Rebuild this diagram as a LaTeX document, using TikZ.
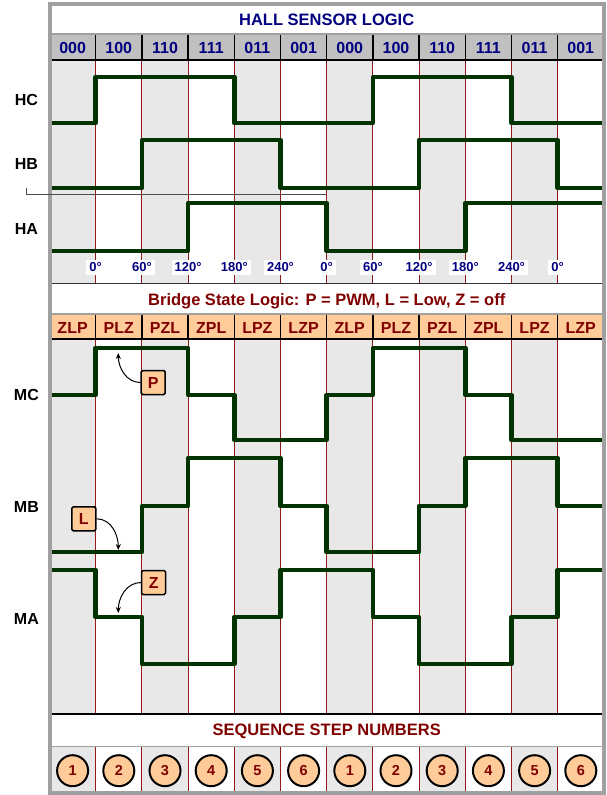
\documentclass[tikz,border=0pt]{standalone}
\usepackage{fontspec}
\setmainfont{Liberation Sans}
\usetikzlibrary{arrows.meta}
\definecolor{navy}{RGB}{0,0,128}
\definecolor{darkred}{RGB}{128,0,0}
\definecolor{wavegreen}{RGB}{0,51,0}
\definecolor{colshade}{RGB}{232,232,232}
\definecolor{headgray}{RGB}{192,192,192}
\definecolor{tagorange}{RGB}{255,204,153}
\definecolor{divred}{RGB}{150,25,25}
\definecolor{framegray}{RGB}{160,160,160}
\begin{document}
\begin{tikzpicture}[x=46.2pt, y=-1pt,
    wave/.style={wavegreen, line width=4.5pt, line join=round},
    divider/.style={divred, line width=1pt},
    celldiv/.style={black, line width=1.5pt},
    title/.style={font=\fontsize{16.5}{18}\selectfont\bfseries, anchor=base},
    lbl/.style={font=\fontsize{16}{18}\selectfont\bfseries, anchor=base},
    code/.style={font=\fontsize{16}{18}\selectfont\bfseries, anchor=base},
    deg/.style={fill=white, text=navy, font=\fontsize{13}{14}\selectfont\bfseries, anchor=base, inner xsep=3pt, inner ysep=3pt, text depth=0pt},
    tag/.style={draw=black, line width=1.5pt, rounded corners=1.5pt, fill=tagorange, text=darkred, minimum size=24pt, inner sep=0pt, font=\fontsize{16}{18}\selectfont\bfseries},
    stepnum/.style={circle, draw=black, line width=2pt, fill=tagorange, text=darkred, minimum size=31pt, inner sep=0pt, font=\fontsize{14.5}{16}\selectfont\bfseries},
    callout/.style={black, line width=1pt, -{Stealth[length=6pt, width=5pt]}}]
    \useasboundingbox (-1.0714,0) rectangle (12.0455,795);
    \fill[white] (0,4) rectangle (12,793);
    \foreach \i in {0,2,...,10} {
        \fill[colshade] (\i,60) rectangle ++(1,223);
        \fill[colshade] (\i,339) rectangle ++(1,375);
        \fill[colshade] (\i,746) rectangle ++(1,46);
    }
    \fill[headgray] (0,33) rectangle (12,60);
    \fill[tagorange] (0,314) rectangle (12,339);
    \foreach \k in {1,...,11} {
        \draw[divider] (\k,60) -- (\k,283);
        \draw[divider] (\k,339) -- (\k,714);
        \draw[divider] (\k,746) -- (\k,792);
        \draw[celldiv] (\k,33) -- (\k,60);
        \draw[celldiv] (\k,314) -- (\k,339);
    }
    \draw[framegray, line width=2pt] (0,34) -- (12,34);
    \draw[black, line width=1.5pt] (0,60) -- (12,60);
    \draw[black!80, line width=1.5pt] (0,283.5) -- (12,283.5);
    \draw[framegray, line width=1.5pt] (0,314) -- (12,314);
    \draw[black, line width=1.5pt] (0,339) -- (12,339);
    \draw[black, line width=1.5pt] (0,714) -- (12,714);
    \draw[framegray, line width=1.5pt] (0,746.5) -- (12,746.5);

    \node[title, navy] (halltitle) at (6,25) {HALL SENSOR LOGIC};
    \node[title, darkred] (bridgetitle) at (6,305) {Bridge State Logic: P = PWM, L = Low, Z = off};
    \node[title, darkred] (steptitle) at (6,735) {SEQUENCE STEP NUMBERS};
    \foreach \c [count=\i from 0] in {000,100,110,111,011,001,000,100,110,111,011,001}
        \node[code, navy] (hall\i) at (\i+0.5,53.3) {\c};
    \foreach \c [count=\i from 0] in {ZLP,PLZ,PZL,ZPL,LPZ,LZP,ZLP,PLZ,PZL,ZPL,LPZ,LZP}
        \node[code, darkred] (bridge\i) at (\i+0.5,333.3) {\c};
    \foreach \d [count=\k] in {0,60,120,180,240,0,60,120,180,240,0}
        \node[deg] (deg\k) at (\k,271.7) {\d°};
    \foreach \n [count=\i from 0] in {1,2,3,4,5,6,1,2,3,4,5,6}
        \node[stepnum] (step\i) at (\i+0.5,770.7) {\n};

    \node[lbl] (hc) at (-0.5,105) {HC};
    \node[lbl] (hb) at (-0.5,169.5) {HB};
    \node[lbl] (ha) at (-0.5,234) {HA};
    \node[lbl] (mc) at (-0.5,400) {MC};
    \node[lbl] (mb) at (-0.5,512) {MB};
    \node[lbl] (ma) at (-0.5,624.3) {MA};

    \draw[wave] (0,123) -| (1,77) -| (4,123) -| (7,77) -| (10,123) -- (12,123);
    \draw[wave] (0,188) -| (2,140) -| (5,188) -| (8,140) -| (11,188) -- (12,188);
    \draw[wave] (0,251) -| (3,203) -| (6,251) -| (9,203) -- (12,203);
    \draw[wave] (0,395) -| (1,348) -| (3,395) -| (4,440) -| (6,395) -| (7,348) -| (9,395) -| (10,440) -- (12,440);
    \draw[wave] (0,552) -| (2,506) -| (3,458) -| (5,506) -| (6,552) -| (8,506) -| (9,458) -| (11,506) -- (12,506);
    \draw[wave] (0,570) -| (1,617) -| (2,664) -| (4,617) -| (5,570) -| (7,617) -| (8,664) -| (10,617) -| (11,570) -- (12,570);

    \node[tag] (ptag) at (2.245,382.5) {P};
    \node[tag] (ltag) at (0.743,518.8) {L};
    \node[tag] (ztag) at (2.255,582.5) {Z};
    \coordinate (ptip) at (1.489,353);
    \coordinate (ltip) at (1.489,550);
    \coordinate (ztip) at (1.489,613);
    \draw[callout] (ptag.west) to[out=180, in=-90] (ptip);
    \draw[callout] (ltag.east) to[out=0, in=90] (ltip);
    \draw[callout] (ztag.west) to[out=180, in=90] (ztip);

    \draw[framegray, line width=4pt] (0.011,4) rectangle (12.002,793);
    \draw[black!70, line width=0.8pt] (-0.5,188) -- (-0.5,194) -- (6,194);
\end{tikzpicture}
\end{document}
